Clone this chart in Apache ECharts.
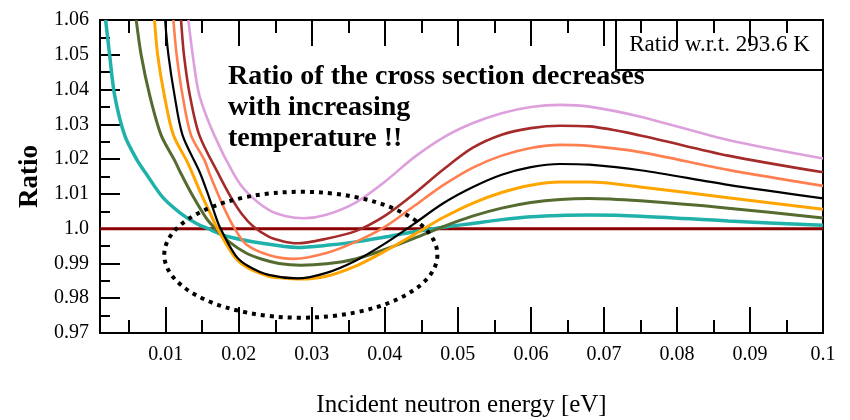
<!DOCTYPE html>
<html>
<head>
<meta charset="utf-8">
<script src="https://cdn.jsdelivr.net/npm/echarts@6/dist/echarts.min.js"></script>
<style>
  html, body { margin: 0; padding: 0; background: #fff; }
  #chart { width: 850px; height: 420px; }
</style>
</head>
<body>
<div id="chart"></div>
<script>
// Energy range [eV] and tick positions
const xMin = 0.001;
const xMax = 0.1;
const xMajorTicks = [0.01, 0.02, 0.03, 0.04, 0.05, 0.06, 0.07, 0.08, 0.09, 0.1];
const xMajorLabels = ['0.01', '0.02', '0.03', '0.04', '0.05', '0.06', '0.07', '0.08', '0.09', '0.1'];
const xMinorTicks = [0.005, 0.015, 0.025, 0.035, 0.045, 0.055, 0.065, 0.075, 0.085, 0.095];
const yTickValues = [0.97, 0.98, 0.99, 1.0, 1.01, 1.02, 1.03, 1.04, 1.05, 1.06];
const yTickLabels = ['0.97', '0.98', '0.99', '1.0', '1.01', '1.02', '1.03', '1.04', '1.05', '1.06'];

// Reference level (ratio = 1)
const refLevel = 1.0;

// Cross-section ratio curves, [energy eV, ratio]
const ratioTeal = [[0.00177,1.060],[0.00232,1.0499],[0.0030,1.0384],[0.00437,1.0269],[0.0060,1.0200],[0.0075,1.0152],[0.0096,1.0090],[0.0120,1.0045],[0.0142,1.0015],[0.0158,1.0000],[0.0182,0.9979],[0.0232,0.9958],[0.0280,0.9946],[0.0320,0.9952],[0.0360,0.9962],[0.0400,0.9976],[0.0440,0.9991],[0.0480,1.0004],[0.0520,1.0015],[0.0560,1.0026],[0.0600,1.0034],[0.0640,1.0038],[0.0680,1.0039],[0.0750,1.0036],[0.0870,1.0022],[0.1,1.0010]];
const ratioOlive = [[0.00596,1.060],[0.00664,1.0499],[0.0078,1.0384],[0.00937,1.0269],[0.0112,1.0197],[0.0121,1.0158],[0.0135,1.0102],[0.0155,1.0032],[0.0168,1.0000],[0.0187,0.9962],[0.0210,0.9930],[0.0232,0.9912],[0.0255,0.9900],[0.0285,0.9895],[0.0320,0.9899],[0.0360,0.9913],[0.0400,0.9940],[0.0440,0.9972],[0.0480,1.0006],[0.0520,1.0036],[0.0560,1.0059],[0.0600,1.0075],[0.0640,1.0084],[0.0680,1.0087],[0.0750,1.0080],[0.0870,1.0059],[0.1,1.0031]];
const ratioOrange = [[0.00846,1.060],[0.0089,1.0499],[0.0098,1.0384],[0.01105,1.0269],[0.0130,1.0190],[0.0148,1.0102],[0.0160,1.0048],[0.0171,1.0000],[0.0194,0.9920],[0.0212,0.9888],[0.0240,0.9864],[0.0255,0.9859],[0.0285,0.9855],[0.0320,0.9863],[0.0360,0.9892],[0.0400,0.9935],[0.0440,0.9983],[0.0480,1.0032],[0.0520,1.0073],[0.0560,1.0104],[0.0600,1.0125],[0.0640,1.0134],[0.0680,1.0134],[0.0750,1.0120],[0.0870,1.0089],[0.1,1.0056]];
const ratioBlack = [[0.00991,1.060],[0.01037,1.0499],[0.0112,1.0384],[0.0123,1.0269],[0.0146,1.0165],[0.0156,1.0110],[0.0165,1.0056],[0.0174,1.0005],[0.0196,0.9922],[0.0214,0.9891],[0.0241,0.9867],[0.0280,0.9857],[0.0320,0.9873],[0.0360,0.9908],[0.0400,0.9957],[0.0440,1.0014],[0.0480,1.0073],[0.0520,1.0119],[0.0560,1.0155],[0.0600,1.0177],[0.0640,1.0186],[0.0680,1.0184],[0.0750,1.0168],[0.0870,1.0126],[0.1,1.0087]];
const ratioCoral = [[0.01105,1.060],[0.0115,1.0499],[0.0123,1.0384],[0.01346,1.0269],[0.0153,1.0197],[0.0160,1.0158],[0.0171,1.0102],[0.0182,1.0050],[0.0193,1.0005],[0.0210,0.9955],[0.0241,0.9924],[0.0275,0.9913],[0.0320,0.9930],[0.0360,0.9962],[0.0400,1.0005],[0.0440,1.0065],[0.0480,1.0125],[0.0520,1.0175],[0.0560,1.0210],[0.0600,1.0232],[0.0640,1.0241],[0.0680,1.0238],[0.0750,1.0220],[0.0870,1.0169],[0.1,1.0123]];
const ratioBrown = [[0.0121,1.060],[0.0125,1.0499],[0.0133,1.0384],[0.0146,1.0269],[0.0173,1.0154],[0.0190,1.0088],[0.0205,1.0040],[0.0220,1.0006],[0.0241,0.9977],[0.0260,0.9964],[0.0280,0.9958],[0.0320,0.9971],[0.0360,0.9993],[0.0400,1.0037],[0.0440,1.0100],[0.0480,1.0170],[0.0520,1.0232],[0.0560,1.0270],[0.0600,1.0289],[0.0640,1.0296],[0.0680,1.0294],[0.0750,1.0268],[0.0870,1.0210],[0.1,1.0162]];
const ratioPlum = [[0.0131,1.060],[0.0137,1.0499],[0.0146,1.0384],[0.01664,1.0269],[0.0194,1.0154],[0.0212,1.0103],[0.0241,1.0054],[0.0265,1.0036],[0.0289,1.0030],[0.0320,1.0040],[0.0360,1.0075],[0.0400,1.0135],[0.0440,1.0205],[0.0480,1.0262],[0.0520,1.0303],[0.0560,1.0332],[0.0600,1.0350],[0.0640,1.0356],[0.0680,1.0351],[0.0750,1.0322],[0.0870,1.0255],[0.1,1.0202]];

// Dotted ellipse around the dip region (data units)
const ellipseCenter = [0.0285, 0.9925];
const ellipseRadii = [0.0187, 0.0181];

const serif = 'Liberation Serif';
const tickFont = { fontFamily: serif, fontSize: 20, color: '#000' };

function xLabel(v) {
  const i = xMajorTicks.findIndex(t => Math.abs(t - v) < 1e-9);
  return i >= 0 ? xMajorLabels[i] : '';
}
function yLabel(v) {
  const i = yTickValues.findIndex(t => Math.abs(t - v) < 1e-9);
  return i >= 0 ? yTickLabels[i] : '';
}

function xAxisLayer(position, ticks, len, withLabels) {
  const ax = {
    type: 'value', min: xMin, max: xMax, position: position, gridIndex: 0,
    axisLine: { show: false },
    splitLine: { show: false },
    axisTick: { show: true, inside: true, length: len, customValues: ticks,
                lineStyle: { color: '#000', width: 2 } },
    axisLabel: { show: false }
  };
  if (withLabels) {
    ax.axisLabel = Object.assign({ show: true, customValues: ticks, formatter: xLabel, margin: 12 }, tickFont);
    ax.name = 'Incident neutron energy [eV]';
    ax.nameLocation = 'middle';
    ax.nameGap = 60;
    ax.nameTextStyle = { fontFamily: serif, fontSize: 25, color: '#000' };
  }
  return ax;
}

function curve(name, data, color, width) {
  return {
    name: name, type: 'line', data: data, xAxisIndex: 0, yAxisIndex: 0,
    showSymbol: false, smooth: 0.3, clip: true,
    lineStyle: { color: color, width: width }, itemStyle: { color: color },
    silent: true
  };
}

const chart = echarts.init(document.getElementById('chart'), null, { renderer: 'canvas' });

chart.setOption({
  animation: false,
  backgroundColor: '#fff',
  grid: { left: 100, right: 27, top: 20, bottom: 87, show: true, containLabel: false,
          outerBoundsMode: 'none',
          borderColor: '#000', borderWidth: 2, backgroundColor: 'transparent' },
  xAxis: [
    xAxisLayer('bottom', xMajorTicks, 26, true),
    xAxisLayer('bottom', xMinorTicks, 13, false),
    xAxisLayer('top', xMajorTicks, 26, false),
    xAxisLayer('top', xMinorTicks, 13, false)
  ],
  yAxis: {
    type: 'value', min: 0.97, max: 1.06, interval: 0.01,
    axisLine: { show: false },
    splitLine: { show: false },
    axisTick: { show: true, inside: true, length: 20, lineStyle: { color: '#000', width: 2 } },
    minorTick: { show: true, splitNumber: 2, length: 10, lineStyle: { color: '#000', width: 2 } },
    axisLabel: Object.assign({ formatter: yLabel, margin: 11 }, tickFont),
    name: 'Ratio', nameLocation: 'middle', nameGap: 55, nameRotate: 90,
    nameTextStyle: { fontFamily: serif, fontSize: 27, fontWeight: 'bold', color: '#000' }
  },
  series: [
    {
      name: 'reference', type: 'line', data: [[xMin, refLevel], [xMax, refLevel]],
      showSymbol: false, silent: true,
      lineStyle: { color: '#8b0000', width: 3 }
    },
    curve('teal', ratioTeal, '#20b2aa', 3.5),
    curve('olive', ratioOlive, '#556b2f', 3),
    curve('orange', ratioOrange, '#ffa500', 3),
    curve('black', ratioBlack, '#000000', 2.2),
    curve('coral', ratioCoral, '#ff7f50', 2.6),
    curve('brown', ratioBrown, '#a52a2a', 2.6),
    curve('plum', ratioPlum, '#dda0dd', 2.6)
  ]
});

// Overlay: dotted ellipse placed through the axes, note text and header box
const c0 = chart.convertToPixel({ xAxisIndex: 0, yAxisIndex: 0 }, ellipseCenter);
const c1 = chart.convertToPixel({ xAxisIndex: 0, yAxisIndex: 0 },
  [ellipseCenter[0] + ellipseRadii[0], ellipseCenter[1] + ellipseRadii[1]]);
const gridRect = chart.getModel().getComponent('grid').coordinateSystem.getRect();

chart.setOption({
  graphic: [
    {
      type: 'ellipse', z: 100,
      shape: { cx: c0[0], cy: c0[1], rx: Math.abs(c1[0] - c0[0]), ry: Math.abs(c1[1] - c0[1]) },
      style: { fill: 'none', stroke: '#000', lineWidth: 4, lineDash: [4, 5], lineCap: 'butt' }
    },
    {
      type: 'text', z: 100, left: 228, top: 61,
      style: {
        text: 'Ratio of the cross section decreases\nwith increasing\ntemperature !!',
        fontFamily: serif, fontSize: 28, fontWeight: 'bold', lineHeight: 31, fill: '#000'
      }
    },
    {
      type: 'group', z: 110,
      children: [
        {
          type: 'rect',
          shape: { x: gridRect.x + gridRect.width - 207, y: gridRect.y, width: 207, height: 50 },
          style: { fill: '#fff', stroke: '#000', lineWidth: 2 }
        },
        {
          type: 'text',
          x: gridRect.x + gridRect.width - 103.5, y: gridRect.y + 25,
          style: { text: 'Ratio w.r.t. 293.6 K', fontFamily: serif, fontSize: 23, fill: '#000',
                   align: 'center', verticalAlign: 'middle' }
        }
      ]
    }
  ]
});
</script>
</body>
</html>
